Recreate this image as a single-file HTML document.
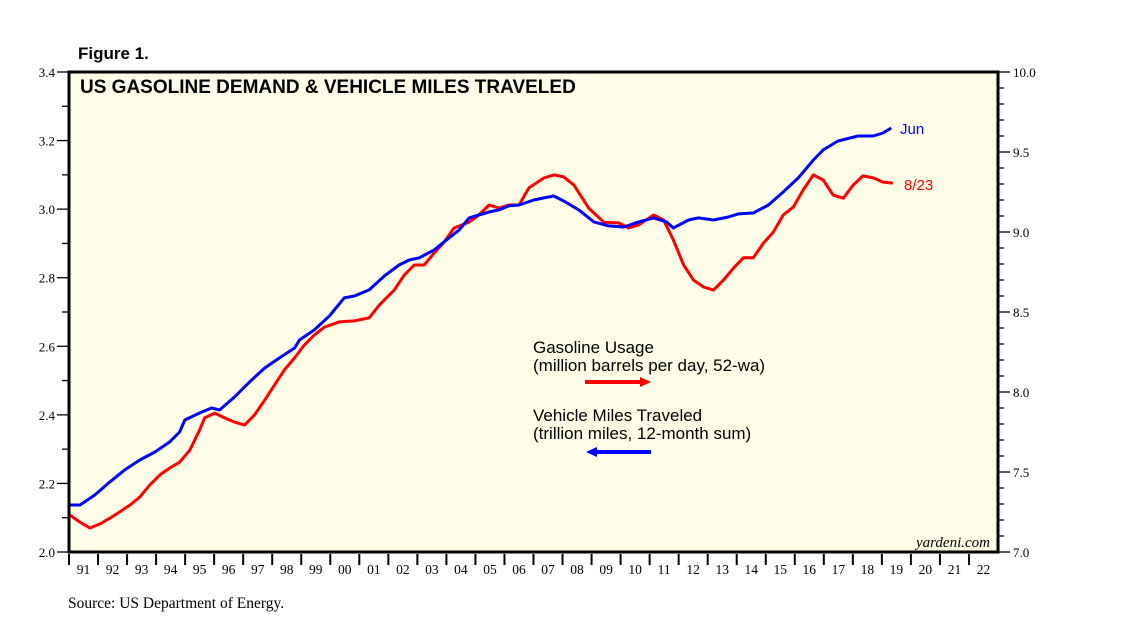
<!DOCTYPE html>
<html><head><meta charset="utf-8"><style>
body{margin:0;background:#fff;}
svg{display:block;}
</style></head><body>
<svg id="c" width="1138" height="638" viewBox="0 0 1138 638" xmlns="http://www.w3.org/2000/svg">
<text x="78" y="59" font-family="Liberation Sans, sans-serif" font-weight="bold" font-size="17">Figure 1.</text>
<rect x="69" y="72" width="929" height="480" fill="#fefee8"/>
<g id="marks"></g>
<rect x="69" y="72" width="929" height="480" fill="none" stroke="#000" stroke-width="3"/>
<text x="80" y="93" font-family="Liberation Sans, sans-serif" font-weight="bold" font-size="19">US GASOLINE DEMAND &amp; VEHICLE MILES TRAVELED</text>
<text x="533" y="353" font-family="Liberation Sans, sans-serif" font-size="17">Gasoline Usage</text>
<text x="533" y="371" font-family="Liberation Sans, sans-serif" font-size="17">(million barrels per day, 52-wa)</text>
<line x1="585" y1="382" x2="642" y2="382" stroke="#f00" stroke-width="4"/>
<polygon points="640,377 651,382 640,387" fill="#f00"/>
<text x="533" y="421" font-family="Liberation Sans, sans-serif" font-size="17">Vehicle Miles Traveled</text>
<text x="533" y="439" font-family="Liberation Sans, sans-serif" font-size="17">(trillion miles, 12-month sum)</text>
<line x1="595" y1="452" x2="651" y2="452" stroke="#00f" stroke-width="4"/>
<polygon points="597,447 586,452 597,457" fill="#00f"/>
<text x="900" y="134" fill="#00f" font-family="Liberation Sans, sans-serif" font-size="15">Jun</text>
<text x="904" y="190" fill="#f00" font-family="Liberation Sans, sans-serif" font-size="15">8/23</text>
<text x="990" y="547" text-anchor="end" font-family="Liberation Serif, serif" font-style="italic" font-size="15">yardeni.com</text>
<text x="68" y="608" font-family="Liberation Serif, serif" font-size="15.5">Source: US Department of Energy.</text>
</svg>
<script>
const vmtDates=[1991.03,1991.38,1991.89,1992.41,1992.92,1993.44,1993.96,1994.47,1994.81,1994.99,1995.50,1995.91,1996.19,1996.70,1997.22,1997.74,1998.25,1998.77,1998.94,1999.45,1999.97,2000.48,2000.83,2001.34,2001.86,2002.37,2002.72,2003.06,2003.58,2004.09,2004.44,2004.78,2005.12,2005.47,2005.81,2006.15,2006.50,2007.01,2007.36,2007.70,2008.04,2008.56,2009.08,2009.59,2010.11,2010.62,2011.14,2011.58,2011.82,2012.34,2012.68,2013.20,2013.71,2014.05,2014.57,2015.09,2015.60,2016.12,2016.64,2016.98,2017.49,2018.18,2018.70,2019.04,2019.32];
const vmtValues=[7.294,7.294,7.356,7.438,7.513,7.575,7.625,7.688,7.75,7.825,7.869,7.9,7.888,7.969,8.063,8.15,8.213,8.275,8.325,8.388,8.475,8.588,8.6,8.638,8.725,8.794,8.825,8.838,8.888,8.963,9.013,9.088,9.106,9.125,9.138,9.163,9.169,9.2,9.213,9.225,9.194,9.138,9.063,9.038,9.031,9.063,9.088,9.063,9.025,9.075,9.088,9.075,9.094,9.113,9.119,9.169,9.25,9.338,9.45,9.513,9.569,9.6,9.6,9.619,9.65];
const gasDates=[1991.03,1991.38,1991.72,1992.07,1992.41,1992.75,1993.10,1993.44,1993.78,1994.13,1994.47,1994.81,1995.16,1995.50,1995.67,1996.02,1996.36,1996.70,1997.05,1997.39,1997.74,1998.08,1998.42,1998.77,1999.11,1999.45,1999.80,2000.31,2000.83,2001.34,2001.69,2002.20,2002.55,2002.89,2003.23,2003.58,2003.92,2004.26,2004.78,2005.12,2005.47,2005.81,2006.15,2006.50,2006.84,2007.36,2007.70,2008.04,2008.39,2008.90,2009.42,2009.93,2010.28,2010.62,2011.14,2011.48,2011.82,2012.17,2012.51,2012.86,2013.20,2013.54,2013.89,2014.23,2014.57,2014.92,2015.26,2015.60,2015.95,2016.29,2016.64,2016.98,2017.32,2017.67,2018.01,2018.35,2018.70,2019.04,2019.38];
const gasValues=[2.108,2.087,2.07,2.082,2.099,2.117,2.137,2.16,2.195,2.225,2.245,2.262,2.297,2.356,2.391,2.405,2.391,2.379,2.37,2.4,2.443,2.487,2.531,2.566,2.604,2.633,2.656,2.671,2.674,2.683,2.72,2.764,2.808,2.837,2.837,2.872,2.904,2.945,2.962,2.983,3.012,3.003,3.012,3.012,3.062,3.091,3.1,3.094,3.07,3.003,2.962,2.96,2.945,2.954,2.983,2.968,2.91,2.837,2.793,2.773,2.764,2.793,2.828,2.858,2.858,2.901,2.933,2.983,3.006,3.056,3.1,3.085,3.041,3.032,3.07,3.097,3.091,3.079,3.076];
const leftTicks=["2.0","2.2","2.4","2.6","2.8","3.0","3.2","3.4"];
const rightTicks=["7.0","7.5","8.0","8.5","9.0","9.5","10.0"];
const yearLabels=["91","92","93","94","95","96","97","98","99","00","01","02","03","04","05","06","07","08","09","10","11","12","13","14","15","16","17","18","19","20","21","22"];

const X0=69,X1=998,Y0=552,Y1=72;
const xs=t=>X0+(t-1991)*(X1-X0)/32;
const yl=v=>Y0-(v-2.0)*(Y0-Y1)/1.4;
const yr=v=>Y0-(v-7.0)*(Y0-Y1)/3.0;
const NS="http://www.w3.org/2000/svg";
const svg=document.getElementById('c');
const marks=document.getElementById('marks');
function mk(tag,attrs,parent){const e=document.createElementNS(NS,tag);for(const k in attrs)e.setAttribute(k,attrs[k]);(parent||svg).appendChild(e);return e;}

for(let i=0;i<=14;i++){const v=2.0+i*0.1;const y=yl(v);const major=i%2===0;
 const t=mk('line',{x1:major?57:62,y1:y,x2:69,y2:y,stroke:'#000','stroke-width':1.3});
 
 }
leftTicks.forEach(s=>{const tx=mk('text',{x:55,y:yl(parseFloat(s))+5,'text-anchor':'end','font-family':'Liberation Serif, serif','font-size':13});tx.textContent=s;
 
 });
for(let i=0;i<=30;i++){const v=7.0+i*0.1;const y=yr(v);const major=i%5===0;
 const t=mk('line',{x1:998,y1:y,x2:major?1010:1004,y2:y,stroke:'#000','stroke-width':1.3});
 
 }
rightTicks.forEach(s=>{const tx=mk('text',{x:1013,y:yr(parseFloat(s))+5,'font-family':'Liberation Serif, serif','font-size':13});tx.textContent=s;
 
 });
yearLabels.forEach((s,i)=>{const x=xs(1991+i);
 const t=mk('line',{x1:x,y1:554,x2:x,y2:565,stroke:'#000','stroke-width':2});
 
 
 const tx=mk('text',{x:xs(1991.5+i),y:574,'text-anchor':'middle','font-family':'Liberation Serif, serif','font-size':13.5});tx.textContent=s;
 
 });
const g=mk('path',{d:gasDates.map((d,i)=>(i?'L':'M')+xs(d).toFixed(1)+','+yl(gasValues[i]).toFixed(1)).join(''),fill:'none',stroke:'#f00','stroke-width':3,'stroke-linejoin':'round'},marks);


const b=mk('path',{d:vmtDates.map((d,i)=>(i?'L':'M')+xs(d).toFixed(1)+','+yr(vmtValues[i]).toFixed(1)).join(''),fill:'none',stroke:'#00f','stroke-width':3,'stroke-linejoin':'round'},marks);


</script>
</body></html>
